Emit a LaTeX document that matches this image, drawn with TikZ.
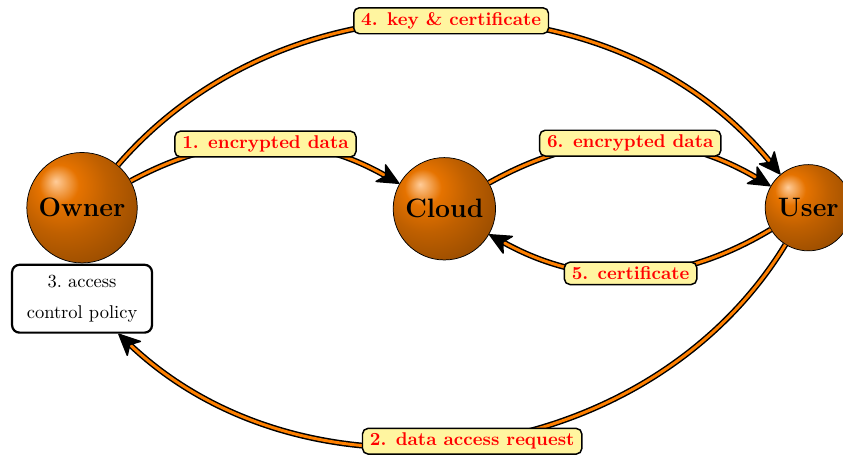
\documentclass[tikz,border=0pt]{standalone}
\usepackage{xcolor}
\usepackage{tikz}
\usetikzlibrary{shapes,arrows.meta,positioning,calc}
\definecolor{lblyellow}{RGB}{255,245,160}
\pgfdeclareradialshading{partyball}{\pgfpoint{-12bp}{12bp}}{%
  color(0bp)=(orange!40!white); color(9bp)=(orange!90!black);
  color(20bp)=(orange!75!black); color(40bp)=(orange!55!black);
  color(70bp)=(orange!40!black)}

\begin{document}
\begin{tikzpicture}[
  party/.style={circle, draw, thin, shading=partyball, inner sep=4.8pt, font=\Large\bfseries},
  policybox/.style={draw, very thick, rounded corners=4pt, fill=white, minimum width=2.66cm, minimum height=1.29cm, align=center, inner sep=2pt},
  flow/.style={line width=0.8pt, double=orange, double distance=1.6pt, -{Stealth[length=13pt,width=12pt,inset=3.5pt,round]}},
  lbl/.style={draw, thick, fill=lblyellow, rounded corners=3pt, text=red, font=\bfseries, inner sep=2.5pt, inner xsep=4pt}
]
\useasboundingbox (0,0) rectangle (16.03,8.69);

% Parties
\node[party] (owner) at (1.56,4.74) {Owner};
\node[party] (cloud) at (8.45,4.72) {Cloud};
\node[party] (user) at (15.37,4.74) {User};

% Policy kept by the owner
\node[policybox] (policy) at (1.56,3.01) {3.\ access\\[5pt] control policy};

% Flows
\draw[flow] (owner) to[bend left=29] node[lbl] {1. encrypted data} (cloud);
\draw[flow] (user) to[bend left=51] node[lbl] {2. data access request} (policy);
\draw[flow] (owner) to[bend left=50] node[lbl] {4. key \& certificate} (user);
\draw[flow] (user) to[bend left=30] node[lbl] {5. certificate} (cloud);
\draw[flow] (cloud) to[bend left=30] node[lbl] {6. encrypted data} (user);
\end{tikzpicture}
\end{document}
